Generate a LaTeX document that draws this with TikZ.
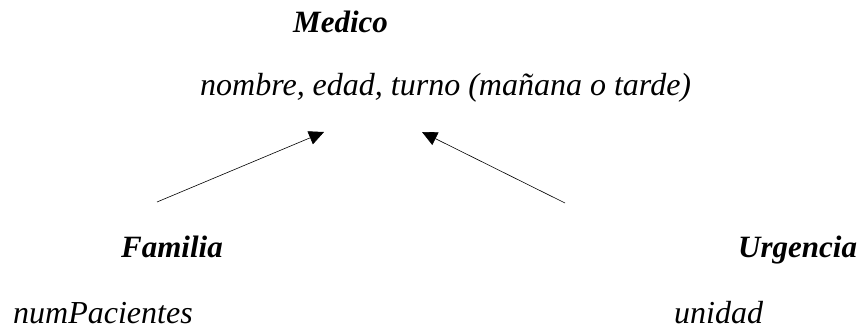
\documentclass[tikz,border=0pt]{standalone}
\usepackage{fontspec}
\setmainfont{Liberation Serif}
\usetikzlibrary{arrows.meta}
\tikzset{
  clase/.style={anchor=base west,inner sep=0pt,font=\fontsize{31}{37}\selectfont\bfseries\itshape},
  atrib/.style={anchor=base west,inner sep=0pt,font=\fontsize{32}{38}\selectfont\itshape},
  hereda/.style={-{Triangle[length=15pt,width=14pt]},line width=0.6pt}
}
\begin{document}
\begin{tikzpicture}[x=1pt,y=-1pt]
\useasboundingbox (0,0) rectangle (858,329);
\node[clase] (medico) at (293,33) {Medico};
\node[atrib] (medAtr) at (200,95) {nombre, edad, turno (mañana o tarde)};

\node[clase] (familia) at (121,257) {Familia};
\node[atrib] (famAtr) at (13,323) {numPacientes};

\node[clase] (urgencia) at (738,257) {Urgencia};
\node[atrib] (urgAtr) at (674,323) {unidad};

\coordinate (famSal) at (157,202);
\coordinate (famLlega) at (324,132);
\coordinate (urgSal) at (565,203);
\coordinate (urgLlega) at (422,132);

\draw[hereda] (famSal) -- (famLlega);% Familia hereda
\draw[hereda] (urgSal) -- (urgLlega);% Urgencia hereda
\end{tikzpicture}
\end{document}
